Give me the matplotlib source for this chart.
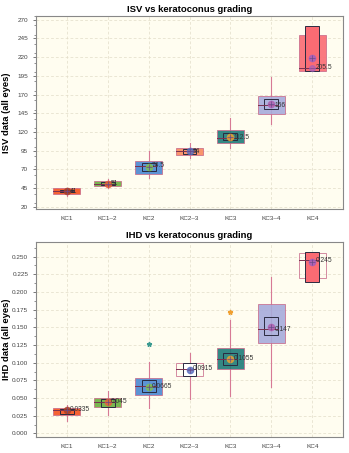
import numpy as np
import matplotlib
matplotlib.use("Agg")
import matplotlib.pyplot as plt
from matplotlib.patches import Rectangle
from matplotlib.ticker import MultipleLocator

plt.rcParams["font.family"] = ["Liberation Sans", "DejaVu Sans"]

# ------------------------------------------------------------
# data
# ------------------------------------------------------------

groups = ["KC1", "KC1\u20132", "KC2", "KC2\u20133", "KC3", "KC3\u20134", "KC4"]

# ISV
isv_q1 = [37.5, 47.7, 64.0, 89.0, 105.0, 144.0, 202.0]
isv_q3 = [44.5, 54.7, 81.5, 98.4, 123.0, 168.4, 249.0]
isv_med = [41, 51, 74.5, 94, 112.5, 156, 205.5]
isv_ci_lo = [39.5, 49.0, 67.2, 91.0, 108.6, 150.6, 202.0]
isv_ci_hi = [42.5, 53.0, 78.4, 97.0, 118.5, 164.4, 262.0]
isv_w_lo = [34.0, 44.5, 58.5, 85.0, 98.5, 130.5, None]
isv_w_hi = [44.5, 57.0, 94.0, 105.0, 138.6, 193.4, None]
isv_mean = [41, 51, 73, 94, 113, 157, 219]
isv_med_labels = ["41", "51", "74.5", "94", "112.5", "156", "205.5"]

# IHD
ihd_q1 = [0.026, 0.037, 0.054, 0.081, 0.0905, 0.1284, 0.2197]
ihd_q3 = [0.036, 0.050, 0.0787, 0.099, 0.1213, 0.1823, 0.2548]
ihd_med = [0.0335, 0.045, 0.0665, 0.0915, 0.1055, 0.147, 0.245]
ihd_ci_lo = [0.027, 0.038, 0.058, 0.081, 0.097, 0.1388, 0.2136]
ihd_ci_hi = [0.0347, 0.049, 0.076, 0.099, 0.113, 0.1639, 0.256]
ihd_w_lo = [0.017, 0.026, 0.036, 0.048, 0.0525, 0.0653, None]
ihd_w_hi = [0.0408, 0.0606, 0.1008, 0.114, 0.160, 0.2207, None]
ihd_mean = [0.033, 0.045, 0.066, 0.090, 0.105, 0.150, 0.242]
ihd_med_labels = ["0.0335", "0.045", "0.0665", "0.0915", "0.1055", "0.147", "0.245"]
ihd_out_x = [3, 5]
ihd_out_y = [0.126, 0.172]

# ------------------------------------------------------------
# styles
# ------------------------------------------------------------

BG = "#FFFDF0"
WHISKER = "#D77A95"
BOX_EDGE = "#C86A8A"
CI_EDGE = "#2A2A40"
MED_LINE = "#7A3050"

isv_fill = ["#F4511E", "#6AAF3D", "#4A88D2", "#F98A5E", "#1E7B78", "#A7ABDB", "#FA6B73"]
isv_ci_fill = ["none", "none", "none", "none", "none", "none", "#FA6B73"]
ihd_fill = ["#F4511E", "#6AAF3D", "#4A88D2", "none", "#1E7B78", "#A7ABDB", "none"]
ihd_ci_fill = ["none", "none", "none", "white", "none", "none", "#FA6B73"]
mean_colors = ["#A8402A", "#E8603A", "#7FC050", "#5A6FC0", "#E8A030", "#B060B0", "#A060C0"]
ihd_out_colors = ["#3A9A90", "#F0A030"]

W_HALF = 0.33
CI_HALF = 0.17


def draw_panel(ax, q1, q3, med, ci_lo, ci_hi, w_lo, w_hi, mean, labels,
               fill, ci_fill):
    for i in range(len(groups)):
        x = i + 1
        if w_lo[i] is not None:
            ax.plot([x, x], [w_lo[i], w_hi[i]], color=WHISKER, lw=0.8, zorder=2)
        ax.add_patch(Rectangle((x - W_HALF, q1[i]), 2 * W_HALF, q3[i] - q1[i],
                               facecolor=fill[i], edgecolor=BOX_EDGE,
                               lw=0.6, alpha=0.9, zorder=3))
        ax.add_patch(Rectangle((x - CI_HALF, ci_lo[i]), 2 * CI_HALF, ci_hi[i] - ci_lo[i],
                               facecolor=ci_fill[i], edgecolor=CI_EDGE,
                               lw=0.7, zorder=4))
        ax.plot([x - W_HALF, x + CI_HALF], [med[i], med[i]],
                color=MED_LINE, lw=0.7, zorder=5)
        ax.plot(x, mean[i], marker="o", ms=4.5, mfc=mean_colors[i],
                mec=mean_colors[i], alpha=0.8, zorder=6)
        ax.plot(x, mean[i], marker="+", ms=4.5, mec="#6A4A8A", mew=0.5, zorder=7)
        ax.text(x + 0.08, med[i], labels[i], fontsize=4.8, color="#333333",
                va="center", ha="left", zorder=8)


def style_axes(ax, title, ylabel):
    ax.set_facecolor(BG)
    ax.set_xlim(0.25, 7.75)
    ax.set_xticks(range(1, 8))
    ax.set_xticklabels(groups)
    ax.grid(True, color="#E2DDC8", lw=0.5, ls=(0, (4, 3)))
    ax.set_axisbelow(True)
    ax.tick_params(axis="both", labelsize=4.6, colors="#444444", length=2, width=0.5)
    ax.tick_params(axis="x", length=0, pad=5)
    ax.tick_params(axis="y", which="minor", length=1.2, width=0.5, colors="#666666")
    for s in ax.spines.values():
        s.set_color("#888888")
        s.set_linewidth(0.8)
    ax.set_title(title, fontsize=6.8, fontweight="bold", pad=3)
    ax.set_ylabel(ylabel, fontsize=6.8, fontweight="bold")
    ax.yaxis.set_label_coords(-0.082, 0.5)


fig = plt.figure(figsize=(3.49, 4.53), dpi=100)
fig.patch.set_facecolor("white")

ax_isv = fig.add_axes([0.103, 0.5386, 0.880, 0.4261])
ax_ihd = fig.add_axes([0.103, 0.0353, 0.880, 0.4305])

draw_panel(ax_isv, isv_q1, isv_q3, isv_med, isv_ci_lo, isv_ci_hi, isv_w_lo, isv_w_hi,
           isv_mean, isv_med_labels, isv_fill, isv_ci_fill)
# KC4 ISV also shows the median point
ax_isv.plot(7, isv_med[6], marker="o", ms=4, mfc="#A060C0", mec="#A060C0", alpha=0.6, zorder=6)

draw_panel(ax_ihd, ihd_q1, ihd_q3, ihd_med, ihd_ci_lo, ihd_ci_hi, ihd_w_lo, ihd_w_hi,
           ihd_mean, ihd_med_labels, ihd_fill, ihd_ci_fill)
for x, y, c in zip(ihd_out_x, ihd_out_y, ihd_out_colors):
    ax_ihd.plot(x, y, marker="*", ms=3.5, color=c, zorder=6)

style_axes(ax_isv, "ISV vs keratoconus grading", "ISV data (all eyes)")
ax_isv.set_ylim(17, 275)
ax_isv.set_yticks(np.arange(20, 271, 25))
ax_isv.yaxis.set_minor_locator(MultipleLocator(12.5))

style_axes(ax_ihd, "IHD vs keratoconus grading", "IHD data (all eyes)")
ax_ihd.set_ylim(-0.005, 0.2705)
ax_ihd.set_yticks(np.arange(0, 0.2501, 0.025))
ax_ihd.set_yticklabels(["{:.3f}".format(v) for v in np.arange(0, 0.2501, 0.025)])
ax_ihd.yaxis.set_minor_locator(MultipleLocator(0.0125))

fig.savefig("out.png", dpi=100, facecolor=fig.get_facecolor())
